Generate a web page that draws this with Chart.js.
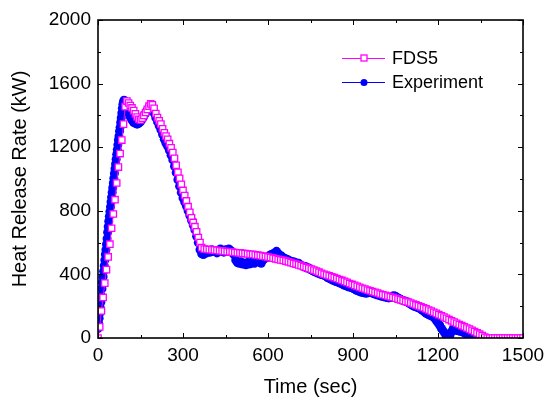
<!DOCTYPE html>
<html><head><meta charset="utf-8">
<script src="https://cdn.jsdelivr.net/npm/chart.js@4/dist/chart.umd.min.js"></script>
<style>html,body{margin:0;padding:0;background:#fff}</style></head>
<body><canvas id="c" width="552" height="403"></canvas>
<script>
// ---- data ----
const fdsTime = [
  0,6,12,18,24,30,36,42,48,54,
  60,66,72,78,84,90,96,102,108,114,
  120,126,132,138,144,150,156,162,168,174,
  180,186,192,198,204,210,216,222,228,234,
  240,246,252,258,264,270,276,282,288,294,
  300,306,312,318,324,330,336,342,348,354,
  360,366,
  375,384,393,402,411,420,429,438,447,456,
  465,474,483,492,501,510,519,528,537,546,
  555,564,573,582,591,600,609,618,627,636,
  645,654,663,672,681,690,699,708,717,726,
  735,744,753,762,771,780,789,798,807,816,
  825,834,843,852,861,870,879,888,897,906,
  915,924,933,942,951,960,969,978,987,996,
  1005,1014,1023,1032,1041,1050,1059,1068,1077,1086,
  1095,1104,1113,1122,1131,1140,1149,1158,1167,1176,
  1185,1194,1203,1212,1221,1230,1239,1248,1257,1266,
  1275,1284,1293,1302,1311,1320,1329,1338,1347,1356,
  1365,1374,1383,1392,1401,1410,1419,1428,1437,1446,
  1455,1464,1473,1482,1491,1500
];
const fdsHRR = [
  0,70,170,255,345,430,510,590,690,780,
  870,975,1075,1160,1245,1345,1455,1490,1478,1462,
  1447,1430,1410,1390,1376,1372,1382,1400,1418,1438,
  1458,1472,1466,1445,1412,1386,1366,1345,1316,1291,
  1270,1250,1222,1196,1166,1130,1086,1042,1004,966,
  928,896,862,826,790,756,727,700,668,632,
  600,568,
  560,558,556,555,553,551,549,547,545,543,
  542,540,538,536,535,533,531,529,527,526,
  523,521,518,515,512,509,506,502,498,494,
  491,488,484,479,474,469,465,460,455,449,
  443,438,433,427,421,414,407,401,396,391,
  385,380,374,368,362,356,350,343,337,331,
  325,319,313,308,302,297,292,287,283,277,
  272,268,264,259,255,250,245,240,235,230,
  226,220,214,208,202,196,190,183,176,169,
  162,155,147,140,132,124,116,108,100,93,
  85,78,71,63,56,48,40,32,24,15,
  5,0,0,0,0,0,0,0,0,0,
  0,0,0,0,0,0
];
const expTime = [
  0,2,4,6,8,10,12,14,16,18,
  20,22,24,26,28,30,32,34,36,38,
  40,42,44,46,48,50,52,54,56,58,
  60,62,64,66,68,70,72,74,76,78,
  80,82,84,86,88,90,92,94,96,98,
  100,102,108,114,
  120,126,132,138,144,150,156,162,168,174,
  180,186,192,198,204,210,216,222,228,234,
  240,246,252,258,264,270,276,282,288,294,
  300,306,312,318,324,330,336,342,348,354,
  360,366,372,378,384,390,396,402,408,414,
  420,426,432,438,444,450,456,462,468,474,
  480,486,492,498,504,510,516,522,528,534,
  540,546,552,558,564,570,576,582,588,594,
  600,606,612,618,624,630,636,642,648,654,
  660,666,672,678,684,690,696,702,708,714,
  720,726,732,738,744,750,756,762,768,774,
  780,786,792,798,804,810,816,822,828,834,
  840,846,852,858,864,870,876,882,888,894,
  900,906,912,918,924,930,936,942,948,954,
  960,966,972,978,984,990,996,1002,1008,1014,
  1020,1026,1032,1038,1044,1050,1056,1062,1068,1074,
  1080,1086,1092,1098,1104,1110,1116,1122,1128,1134,
  1140,1146,1152,1158,1164,1170,1176,1182,1188,1194,
  1200,1206,1212,1218,1224,1230,1236,1242,1248,1254,
  1260,1266,1272,1278,1284,1290,1296,1302,1308,1314,
  1320,1326,1332
];
const expHRR = [
  60,95,125,155,190,225,265,310,350,385,
  420,455,490,525,555,590,625,665,700,735,
  765,795,825,855,885,915,945,975,1005,1035,
  1065,1095,1125,1155,1185,1215,1245,1270,1300,1325,
  1355,1385,1415,1445,1470,1487,1495,1490,1482,1472,
  1462,1450,1415,1390,
  1370,1355,1350,1345,1350,1360,1375,1395,1415,1435,
  1450,1455,1440,1415,1385,1360,1335,1310,1280,1250,
  1225,1205,1180,1150,1120,1080,1040,995,955,915,
  880,855,830,800,770,740,710,680,640,600,
  555,530,525,540,535,545,540,555,545,550,
  535,545,560,550,540,555,545,560,550,535,
  525,490,475,470,480,465,470,460,475,465,
  470,480,470,485,495,480,470,490,500,505,
  510,520,525,530,535,545,530,520,515,505,
  500,495,490,485,480,480,475,470,470,460,
  455,450,450,440,440,430,425,420,415,410,
  405,400,400,395,390,380,375,370,365,360,
  355,352,347,342,337,332,328,323,320,317,
  313,308,300,296,292,288,286,283,282,285,
  290,285,280,276,272,270,266,262,260,258,
  255,252,255,262,266,262,255,248,243,238,
  234,230,226,220,212,206,200,196,192,188,
  180,172,165,156,150,145,140,135,125,110,
  95,80,60,45,30,10,0,15,40,60,
  50,48,45,42,40,36,30,25,20,15,
  10,5,0
];
const seriesNames = ['FDS5', 'Experiment'];
const xTitle = 'Time (sec)';
const yTitle = 'Heat Release Rate (kW)';
const xRange = [0, 1500], xMajor = 300, xMinor = 150;
const yRange = [0, 2000], yMajor = 400, yMinor = 200;

// ---- build ----
const zip = (a, b) => a.slice(0, Math.min(a.length, b.length)).map((t, i) => ({x: t, y: b[i]}));
const FONT = "'Liberation Sans', Arial, sans-serif";
const PINK = '#FF00FF', BLUE = '#0000FF';

const framePlugin = {
  id: 'frame',
  afterDatasetsDraw(chart) {
    const {ctx, chartArea: a, scales: {x, y}} = chart;
    ctx.save();
    ctx.strokeStyle = '#000';
    ctx.lineWidth = 1;
    ctx.beginPath();
    for (let v = xRange[0]; v <= xRange[1]; v += xMinor) {
      const p = Math.round(x.getPixelForValue(v)) + 0.5;
      const L = (v % xMajor === 0) ? 5 : 3;
      ctx.moveTo(p, a.bottom); ctx.lineTo(p, a.bottom - L);
      ctx.moveTo(p, a.top); ctx.lineTo(p, a.top + L);
    }
    for (let v = yRange[0]; v <= yRange[1]; v += yMinor) {
      const p = Math.round(y.getPixelForValue(v)) + 0.5;
      const L = (v % yMajor === 0) ? 5 : 3;
      ctx.moveTo(a.left, p); ctx.lineTo(a.left + L, p);
      ctx.moveTo(a.right, p); ctx.lineTo(a.right - L, p);
    }
    ctx.stroke();
    ctx.lineWidth = 1.6;
    ctx.strokeRect(a.left, a.top, a.right - a.left, a.bottom - a.top);
    // legend
    const rows = [
      {name: seriesNames[0], color: PINK, style: 'rect'},
      {name: seriesNames[1], color: BLUE, style: 'circle'}
    ];
    const lx0 = a.left + 244, lx1 = a.left + 287, mx = a.left + 266, tx = a.left + 294;
    rows.forEach((r, i) => {
      const yy = a.top + 38 + i * 24;
      ctx.strokeStyle = r.color; ctx.lineWidth = 1;
      ctx.beginPath(); ctx.moveTo(lx0, yy + 0.5); ctx.lineTo(lx1, yy + 0.5); ctx.stroke();
      if (r.style === 'rect') {
        ctx.fillStyle = '#fff'; ctx.lineWidth = 1.3;
        ctx.fillRect(mx - 3, yy - 3, 6, 6); ctx.strokeRect(mx - 3, yy - 3, 6, 6);
      } else {
        ctx.fillStyle = r.color;
        ctx.beginPath(); ctx.arc(mx, yy + 0.5, 3.5, 0, Math.PI * 2); ctx.fill();
      }
      ctx.fillStyle = '#000'; ctx.font = '18px ' + FONT;
      ctx.textAlign = 'left'; ctx.textBaseline = 'middle';
      ctx.fillText(r.name, tx, yy + 1);
    });
    ctx.restore();
  }
};

new Chart(document.getElementById('c'), {
  type: 'scatter',
  data: {
    datasets: [
      {
        label: seriesNames[0], data: zip(fdsTime, fdsHRR), showLine: true,
        borderColor: PINK, borderWidth: 1, pointStyle: 'rect', pointRadius: 4.5,
        pointBorderColor: PINK, pointBackgroundColor: '#fff', pointBorderWidth: 1.3
      },
      {
        label: seriesNames[1], data: zip(expTime, expHRR), showLine: true,
        borderColor: BLUE, borderWidth: 1, pointStyle: 'circle', pointRadius: 4.5,
        pointBorderWidth: 0, pointBackgroundColor: BLUE
      }
    ]
  },
  options: {
    responsive: false, animation: false,
    layout: {padding: {left: 0, top: 20, right: 29, bottom: 0}},
    plugins: {legend: {display: false}, tooltip: {enabled: false}},
    scales: {
      x: {
        type: 'linear', min: xRange[0], max: xRange[1],
        afterFit: s => { s.height = 65; },
        grid: {display: false, drawTicks: false}, border: {display: false},
        ticks: {stepSize: xMajor, padding: 6, color: '#000', font: {family: FONT, size: 19}, maxRotation: 0,
                callback: v => String(v)},
        title: {display: true, text: xTitle, color: '#000', font: {family: FONT, size: 20}, padding: {bottom: 4, top: 0}}
      },
      y: {
        type: 'linear', min: yRange[0], max: yRange[1],
        afterFit: s => { s.width = 98; },
        grid: {display: false, drawTicks: false}, border: {display: false},
        ticks: {stepSize: yMajor, padding: 7, color: '#000', font: {family: FONT, size: 19},
                callback: v => String(v)},
        title: {display: true, text: yTitle, color: '#000', font: {family: FONT, size: 20}, padding: {top: 8, bottom: 0}}
      }
    }
  },
  plugins: [framePlugin]
});
</script>
</body></html>
